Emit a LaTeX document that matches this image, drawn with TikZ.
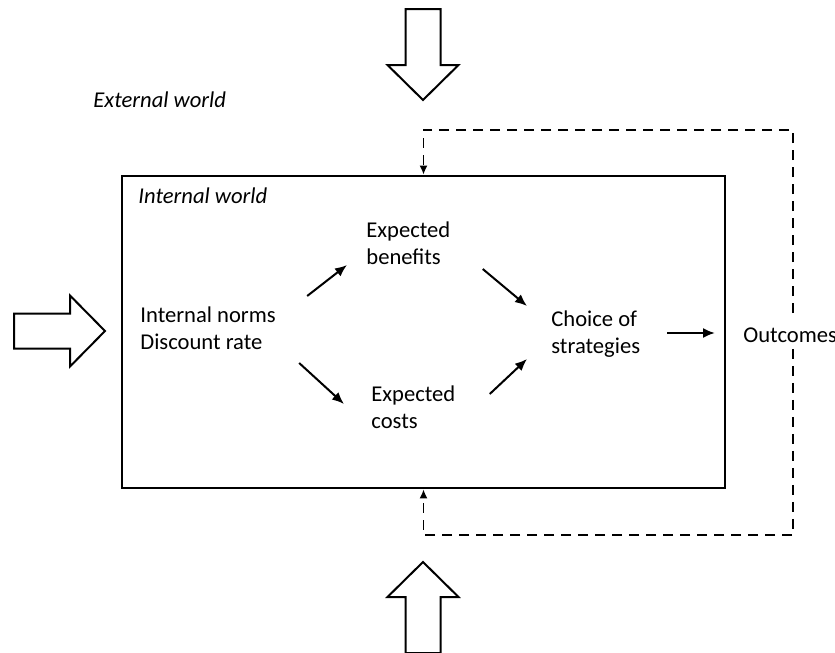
\documentclass[tikz,border=0pt]{standalone}
\usepackage{fontspec}
\setmainfont{Carlito}
\usepackage{tikz}
\usetikzlibrary{calc, positioning, arrows.meta}
\newcommand\fatarrow[3]{\draw[line width=1pt, shift={(#1,#2)}, rotate=#3] (0,0) -- (-35,35.5) -- (-35,17.5) -- (-91,17.5) -- (-91,-17.5) -- (-35,-17.5) -- (-35,-35.5) -- cycle;}
\newcommand\worldfont{\fontsize{11.3}{13.5}\selectfont}

\begin{document}
\begin{tikzpicture}[x=0.5pt, y=-0.5pt,
	txt/.style={font=\worldfont, align=left, anchor=west, inner sep=0pt},
	flow/.style={-{Latex[length=6pt, width=5pt]}, line width=1pt},
	feedback/.style={-{Latex[length=4.5pt, width=4pt]}, line width=0.8pt, dash pattern=on 5pt off 3.5pt}]
\useasboundingbox (0,0) rectangle (835,653);
	\fatarrow{423}{100}{-90}
	\fatarrow{105}{331}{0}
	\fatarrow{423}{562}{90}
	
	\node[draw, line width=1.4pt, minimum width=301.5pt, minimum height=156pt, inner sep=0pt] (box) at (423.5,332) {};
	
	\node[txt] (external) at (93,100) {\itshape External world};
	\node[txt] (internal) at (138,196) {\itshape Internal world};
	\node[txt] (norms) at (140,328) {Internal norms\\Discount rate};
	\node[txt] (benefits) at (366,243) {Expected\\benefits};
	\node[txt] (costs) at (371,407) {Expected\\costs};
	\node[txt] (choice) at (551,334) {Choice of\\strategies};
	\node[txt, inner ysep=7pt] (outcomes) at (743,335) {Outcomes};
	
	\coordinate (fbtop) at (793,130);
	\coordinate (fbbot) at (793,535);
	
	\draw[flow] ([shift={(31,-32)}]norms.east) -- ([shift={(-19,22)}]benefits.west);
	\draw[flow] ([shift={(23,35)}]norms.east) -- ([shift={(-27,-3)}]costs.west);
	\draw[flow] ([shift={(32,26)}]benefits.east) -- ([shift={(-24,-28)}]choice.west);
	\draw[flow] ([shift={(34,-13)}]costs.east) -- ([shift={(-24,25)}]choice.west);
	\draw[flow] ([shift={(27,-1)}]choice.east) -- ([shift={(-28,-2)}]outcomes.west);
	
	\draw[feedback] (outcomes.north -| fbtop) -- (fbtop) -| (box.north);
	\draw[feedback] ([yshift=4pt]outcomes.south -| fbbot) -- (fbbot) -| (box.south);
\end{tikzpicture}
\end{document}
